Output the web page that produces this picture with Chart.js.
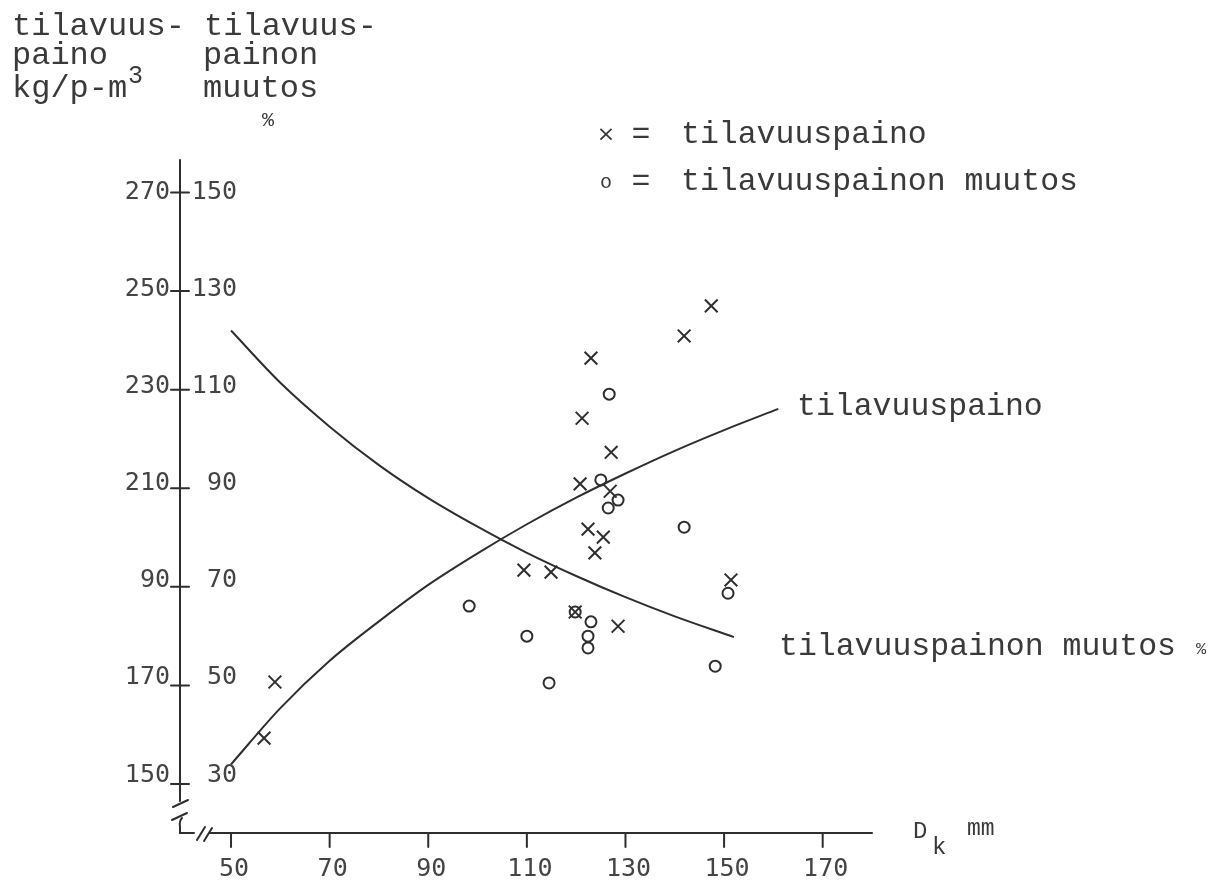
<!DOCTYPE html>
<html>
<head>
<meta charset="utf-8">
<script src="https://cdn.jsdelivr.net/npm/chart.js@4.4.1/dist/chart.umd.min.js"></script>
<style>
  html, body { margin: 0; padding: 0; background: #fff; }
  canvas { display: block; }
</style>
</head>
<body>
<canvas id="c" width="1218" height="883"></canvas>
<script>
// Havainnot: latvaläpimitta D_k (mm) ja tilavuuspaino (kg/p-m3)
const dkWeight     = [58.9, 56.7, 109.4, 114.9, 122.4, 125.5, 123.8, 120.8, 126.9, 127.1, 121.2, 123.0, 141.9, 147.4, 151.4, 128.5, 119.8];
const weightValues = [170.7, 159.3, 193.4, 193.0, 201.7, 200.1, 196.9, 210.9, 209.4, 217.3, 224.2, 236.4, 240.9, 247.0, 191.4, 182.0, 184.9];

// Havainnot: tilavuuspainon muutos (%)
const dkChange     = [126.7, 125.0, 128.5, 126.5, 141.9, 150.8, 119.8, 123.0, 110.0, 122.4, 122.4, 148.2, 114.5, 98.3];
const changeValues = [109.1, 91.7, 87.6, 86.0, 82.1, 68.7, 64.9, 62.9, 60.0, 60.0, 57.6, 53.9, 50.5, 66.1];

// Tasoitetut käyrät
const weightCurveDk = [50, 60, 70, 80, 90, 100, 110, 120, 130, 140, 150, 161];
const weightCurve   = [154.0, 165.4, 175.0, 183.0, 190.4, 196.8, 202.7, 208.1, 213.0, 217.6, 221.8, 226.1];
const changeCurveDk = [50, 60, 70, 80, 90, 100, 110, 120, 130, 140, 152];
const changeCurve   = [122.0, 111.4, 102.5, 94.7, 88.0, 82.2, 76.9, 72.2, 67.9, 64.0, 59.8];

// Akselien jaotukset
const xTicks           = [50, 70, 90, 110, 130, 150, 170];
const weightTicks      = [270, 250, 230, 210, 190, 170, 150];
const weightTickLabels = ['270', '250', '230', '210', '90', '170', '150'];
const changeTicks      = [150, 130, 110, 90, 70, 50, 30];

const INK = '#2e2e2e';
const TEXT = '#3a3a3a';
const MONO = '"Liberation Mono", "Courier New", monospace';
const NUM = '"DejaVu Sans Mono", monospace';

const pts = (xs, ys) => xs.map((x, i) => ({ x: x, y: ys[i] }));

const paperPlugin = {
  id: 'paper',
  beforeDatasetsDraw(chart) {
    const ctx = chart.ctx;
    const { x, y, y2 } = chart.scales;
    const a = chart.chartArea;
    ctx.save();
    ctx.strokeStyle = INK;
    ctx.lineWidth = 2;
    ctx.lineCap = 'round';

    // pystyakseli katkoineen
    const ax = a.left;
    ctx.beginPath();
    ctx.moveTo(ax, a.top);
    ctx.lineTo(ax, a.bottom - 32);
    ctx.moveTo(ax - 7, a.bottom - 26);
    ctx.lineTo(ax + 8, a.bottom - 33);
    ctx.moveTo(ax - 8, a.bottom - 13);
    ctx.lineTo(ax + 7, a.bottom - 20);
    ctx.moveTo(ax + 2, a.bottom - 15);
    ctx.quadraticCurveTo(ax - 1, a.bottom - 12, ax, a.bottom - 6);
    ctx.lineTo(ax, a.bottom);
    // vaaka-akseli katkoineen
    ctx.lineTo(ax + 14, a.bottom);
    ctx.moveTo(ax + 17, a.bottom + 7);
    ctx.lineTo(ax + 25, a.bottom - 6);
    ctx.moveTo(ax + 24, a.bottom + 8);
    ctx.lineTo(ax + 32, a.bottom - 5);
    ctx.moveTo(ax + 30, a.bottom);
    ctx.lineTo(a.right, a.bottom);
    ctx.stroke();

    // jakoviivat
    ctx.beginPath();
    xTicks.forEach(v => {
      const px = x.getPixelForValue(v);
      ctx.moveTo(px, a.bottom);
      ctx.lineTo(px, a.bottom + 14);
    });
    weightTicks.forEach(v => {
      const py = y.getPixelForValue(v);
      ctx.moveTo(ax - 9, py);
      ctx.lineTo(ax + 9, py);
    });
    ctx.stroke();

    // jakoviivojen numerot
    ctx.fillStyle = '#444';
    ctx.font = '25px ' + NUM;
    ctx.textBaseline = 'middle';
    ctx.textAlign = 'center';
    xTicks.forEach(v => ctx.fillText(String(v), x.getPixelForValue(v) + 3, a.bottom + 36));
    ctx.textAlign = 'right';
    weightTicks.forEach((v, i) => ctx.fillText(weightTickLabels[i], ax - 10, y.getPixelForValue(v) - 1.5 * i));
    changeTicks.forEach((v, i) => ctx.fillText(String(v), ax + 57, y2.getPixelForValue(v) - 1.5 * i));

    // otsikot
    ctx.fillStyle = TEXT;
    ctx.textAlign = 'left';
    ctx.textBaseline = 'alphabetic';
    ctx.font = '32px ' + MONO;
    ctx.fillText('tilavuus- tilavuus-', 12, 35);
    ctx.fillText('paino', 12, 64);
    ctx.fillText('painon', 203, 64);
    ctx.fillText('kg/p-m', 12, 97);
    ctx.fillText('muutos', 203, 97);
    ctx.font = '25px ' + MONO;
    ctx.fillText('3', 128, 83);
    ctx.font = '20px ' + MONO;
    ctx.fillText('%', 262, 126);

    // selite
    ctx.font = '22px "DejaVu Sans", sans-serif';
    ctx.textAlign = 'center';
    ctx.fillText('\u00d7', 606, 141);
    ctx.font = '20px ' + MONO;
    ctx.fillText('o', 606, 188);
    ctx.font = '31.5px ' + MONO;
    ctx.fillText('=', 641, 143);
    ctx.fillText('=', 641, 190);
    ctx.textAlign = 'left';
    ctx.fillText('tilavuuspaino', 681, 143);
    ctx.fillText('tilavuuspainon muutos', 681, 190);

    // käyrien nimet
    ctx.fillText('tilavuuspaino', 797, 415);
    ctx.fillText('tilavuuspainon muutos', 779, 655);
    ctx.font = '17px ' + MONO;
    ctx.fillText('%', 1196, 654);

    // vaaka-akselin nimi
    ctx.font = '24px ' + MONO;
    ctx.fillText('D', 913, 838);
    ctx.fillText('k', 932, 854);
    ctx.font = '23px ' + MONO;
    ctx.fillText('mm', 967, 835);
    ctx.restore();
  }
};

new Chart(document.getElementById('c'), {
  type: 'scatter',
  data: {
    datasets: [
      {
        label: 'tilavuuspaino',
        data: pts(dkWeight, weightValues),
        yAxisID: 'y',
        pointStyle: 'crossRot',
        pointRadius: 9,
        borderColor: INK,
        borderWidth: 2,
        backgroundColor: INK
      },
      {
        label: 'tilavuuspainon muutos',
        data: pts(dkChange, changeValues),
        yAxisID: 'y2',
        pointStyle: 'circle',
        pointRadius: 5.5,
        borderColor: INK,
        borderWidth: 2,
        backgroundColor: 'rgba(0,0,0,0)'
      },
      {
        label: 'tilavuuspaino, käyrä',
        data: pts(weightCurveDk, weightCurve),
        yAxisID: 'y',
        showLine: true,
        cubicInterpolationMode: 'monotone',
        pointRadius: 0,
        borderColor: INK,
        borderWidth: 2
      },
      {
        label: 'tilavuuspainon muutos, käyrä',
        data: pts(changeCurveDk, changeCurve),
        yAxisID: 'y2',
        showLine: true,
        cubicInterpolationMode: 'monotone',
        pointRadius: 0,
        borderColor: INK,
        borderWidth: 2
      }
    ]
  },
  options: {
    responsive: false,
    devicePixelRatio: 1,
    animation: false,
    clip: false,
    layout: { padding: { left: 180, right: 346, top: 160, bottom: 50 } },
    plugins: { legend: { display: false }, tooltip: { enabled: false } },
    scales: {
      x: { type: 'linear', min: 39.65, max: 180, display: false },
      y: { type: 'linear', min: 140.06, max: 276.6, display: false },
      y2: { type: 'linear', min: 20.06, max: 156.6, display: false }
    }
  },
  plugins: [paperPlugin]
});
</script>
</body>
</html>
